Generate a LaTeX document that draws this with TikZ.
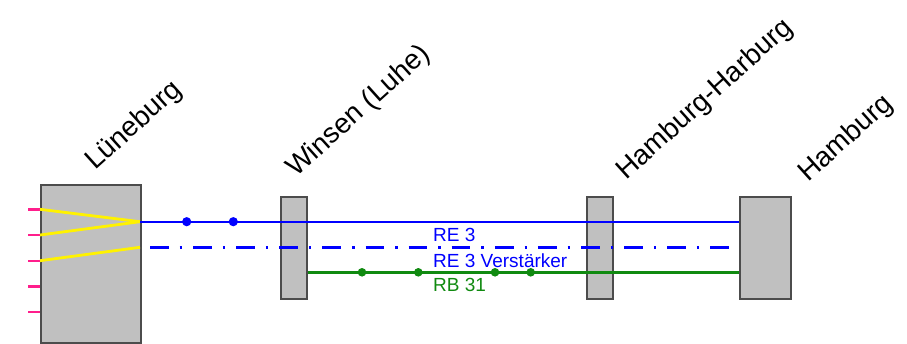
\documentclass[tikz,border=0pt]{standalone}
\usepackage{fontspec}
\setmainfont{Liberation Sans}
\usetikzlibrary{positioning}
\definecolor{boxgray}{HTML}{C0C0C0}
\definecolor{trackpink}{HTML}{FF1E8C}
\definecolor{lineblue}{HTML}{0000FF}
\definecolor{linegreen}{HTML}{108A10}

\tikzset{
    station/.style = {draw=black!70, fill=boxgray, line width=1.8pt,
        inner sep=0pt, anchor=north west},
    stationname/.style = {anchor=base west, rotate=42, inner sep=0pt,
        font=\fontsize{28}{30}\selectfont},
    linename/.style = {anchor=base west, inner sep=0pt,
        font=\fontsize{19}{22}\selectfont},
    route/.style = {line width=2.4pt},
    stop/.style = {radius=4.6pt},
}

\begin{document}
\begin{tikzpicture}[x=1pt, y=-1pt]
    \useasboundingbox (0,0) rectangle (907,343);
    % stations (units of pixels, y downwards)
    \node[station, minimum width=100, minimum height=158] (lue) at (40,184) {};
    \node[station, minimum width=26, minimum height=102] (win) at (280,196) {};
    \node[station, minimum width=26, minimum height=102] (hhar) at (586,196) {};
    \node[station, minimum width=51, minimum height=102] (hbf) at (739,196) {};
    % names of the stations
    \node[stationname] (lueName) at (95,171) {Lüneburg};
    \node[stationname] (winName) at (296,178) {Winsen (Luhe)};
    \node[stationname] (hharName) at (626,181) {Hamburg-Harburg};
    \node[stationname] (hbfName) at (808,183) {Hamburg};
    % tracks at Lüneburg
    \foreach \i in {0,...,4}
        \draw[trackpink, route] (28,209.3+25.7*\i) -- (lue.west |- 0,209.3+25.7*\i);
    \coordinate (re3Start) at (140,221.7);
    \coordinate (reVStart) at (140,247.3);
    \draw[yellow, line width=2.8pt] (40,209.3) -- (re3Start);
    \draw[yellow, line width=2.8pt] (40,235) -- (re3Start);
    \draw[yellow, line width=2.8pt] (40,260.7) -- (reVStart);
    % lines
    \coordinate (rbStart) at (win.east |- 0,272.3);
    \draw[lineblue, route] (re3Start) -- (hbf.west |- re3Start);
    \draw[lineblue, route, dash pattern=on 18.7pt off 11pt on 2.4pt off 11pt]
        (150,247.3) -- (hbf.west |- reVStart);
    \draw[linegreen, route] (rbStart) -- (hbf.west |- rbStart);
    % stops on the way
    \foreach \x in {186.7,233.3}
        \fill[lineblue] (\x,221.7) circle[stop];
    \foreach \x in {362,418.3,495,530.7}
        \fill[linegreen] (\x,272.3) circle[stop, radius=4.3pt];
    % line names
    \node[linename, text=lineblue] (re3) at (433,241.7) {RE 3};
    \node[linename, text=lineblue] (reV) at (433,267) {RE 3 Verstärker};
    \node[linename, text=linegreen] (rb31) at (433,291.5) {RB 31};
\end{tikzpicture}
\end{document}
